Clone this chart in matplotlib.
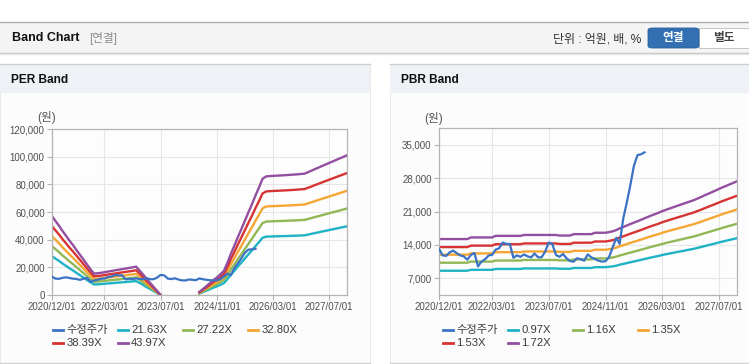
import numpy as np
import pandas as pd
import matplotlib
matplotlib.use("Agg")
import matplotlib.pyplot as plt
from matplotlib.patches import Rectangle, FancyBboxPatch
from matplotlib.lines import Line2D
from matplotlib.ticker import FuncFormatter

plt.rcParams['font.family'] = ['Liberation Sans', 'Noto Sans CJK KR', 'DejaVu Sans']

W, H = 749, 364
nan = np.nan

# monthly dates, 2020/12 .. 2027/12
dates = pd.date_range("2020-12-01", periods=85, freq="MS")
tick_dates = ["2020-12-01", "2022-03-01", "2023-07-01", "2024-11-01", "2026-03-01", "2027-07-01"]
tick_labels = ["2020/12/01", "2022/03/01", "2023/07/01", "2024/11/01", "2026/03/01", "2027/07/01"]

# adjusted price (수정주가), 2020/12 .. 2025/10
price = [13200, 11800, 11700, 12400, 12800, 12300, 11800, 11600, 10900, 11900,
         12300, 9500, 10500, 11000, 11800, 11900, 13000, 13300, 14500, 14200,
         14200, 11300, 11800, 11500, 12000, 11600, 11400, 12200, 11400, 11400,
         12600, 14500, 14200, 11900, 11500, 12100, 11200, 10600, 10500, 11200,
         11000, 10700, 12000, 11400, 11000, 10700, 10500, 10600, 11500, 13500,
         15500, 14200, 19500, 22800, 26500, 30500, 32800, 33000, 33400]

# EPS behind the PER band (won)
per_eps = [1295, 1215, 1135, 1055, 975, 895, 820, 740, 660, 580, 500, 420, 352,
           358, 365, 375, 385, 395, 405, 415, 425, 435, 445, 455, 466,
           400, 333, 266, 200, 133, 66, 0,
           nan, nan, nan, nan, nan, nan, nan, nan, nan, nan,
           50, 95, 145, 195, 245, 290, 340, 400, 535, 675, 810, 950, 1085, 1220,
           1360, 1495, 1635, 1770, 1910, 1950,
           1955, 1958, 1962, 1965, 1968, 1972, 1976, 1980, 1984, 1990, 1995,
           2020, 2045, 2070, 2095, 2120, 2145, 2170, 2195, 2220, 2245, 2270, 2295]
per_multiples = [21.63, 27.22, 32.80, 38.39, 43.97]
per_labels = ["수정주가", "21.63X", "27.22X", "32.80X", "38.39X", "43.97X"]

# BPS behind the PBR band (won)
pbr_bps = [8850, 8850, 8850, 8850, 8850, 8850, 8850, 8850, 8850,
           9050, 9050, 9050, 9050, 9050, 9050, 9050,
           9240, 9240, 9240, 9240, 9240, 9240, 9240, 9240,
           9350, 9350, 9350, 9350, 9350, 9350, 9350, 9350, 9350, 9350,
           9280, 9280, 9280, 9280,
           9450, 9450, 9450, 9450, 9450, 9450,
           9620, 9620, 9620, 9620,
           9700, 9800, 9950, 10150, 10320, 10500, 10680, 10850, 11020, 11200,
           11380, 11560, 11740, 11900, 12070, 12240, 12410, 12560, 12710, 12860,
           13010, 13160, 13310, 13460, 13610, 13800, 13990, 14180, 14370, 14560,
           14750, 14950, 15150, 15330, 15510, 15690, 15870]
pbr_multiples = [0.97, 1.16, 1.35, 1.53, 1.72]
pbr_labels = ["수정주가", "0.97X", "1.16X", "1.35X", "1.53X", "1.72X"]

colors = ["#3a72c4", "#1fb3c6", "#92b755", "#f5a634", "#d63333", "#924f9f"]


def fx(x):
    return x / W


def fy(y):
    return 1 - y / H


def rect(fig, x0, y0, x1, y1, fc, ec="none", lw=0, z=-1):
    fig.patches.append(Rectangle((fx(x0), fy(y1)), (x1 - x0) / W, (y1 - y0) / H,
                                 transform=fig.transFigure, fc=fc, ec=ec, lw=lw, zorder=z))


def hline(fig, x0, x1, y, color, lw=0.75):
    fig.lines.append(Line2D([fx(x0), fx(x1)], [fy(y), fy(y)], transform=fig.transFigure,
                            color=color, lw=lw, zorder=-0.5))


def draw_panel(fig, x0, x1, title):
    rect(fig, x0, 64, x1, 363, "#fcfcfc", ec="#e4e4e4", lw=0.6)
    rect(fig, x0, 64, x1, 93, "#eef1f6", z=-0.8)
    hline(fig, x0, x1, 64.3, "#cfcfcf", 1.0)
    hline(fig, x0, x1, 362.7, "#d2d2d2", 1.0)
    fig.text(fx(x0 + 11), fy(80), title, fontsize=8.6, fontweight="bold",
             color="#111111", va="center", ha="left")


def draw_chart(ax, base, multiples, ylim, yticks):
    base = np.array(base, dtype=float)
    for m, c in zip(multiples, colors[1:]):
        ax.plot(dates, base * m, color=c, lw=1.7, zorder=2)
    ax.plot(dates[:len(price)], price, color=colors[0], lw=1.6, zorder=3)
    ax.set_xlim(dates[0], dates[-1] + pd.Timedelta(days=3))
    ax.set_ylim(*ylim)
    ax.set_yticks(yticks)
    ax.yaxis.set_major_formatter(FuncFormatter(lambda v, p: f"{int(v):,}"))
    ax.set_xticks(pd.to_datetime(tick_dates))
    ax.set_xticklabels(tick_labels)
    ax.grid(True, color="#e6e6e6", lw=0.75, zorder=0)
    ax.set_axisbelow(True)
    ax.set_facecolor("#fdfdfd")
    ax.set_zorder(5)
    for s in ax.spines.values():
        s.set_color("#b4b4b4")
        s.set_linewidth(0.9)
    ax.tick_params(axis="both", colors="#b4b4b4", labelcolor="#505050",
                   labelsize=7.0, length=3.5, width=0.8, pad=1.8)


def draw_legend(fig, x_start, labels):
    for i, lab in enumerate(labels):
        col, row = i % 4, i // 4
        x = x_start + 65 * col
        y = 330 + 13.3 * row
        fig.lines.append(Line2D([fx(x), fx(x + 10.5)], [fy(y), fy(y)],
                                transform=fig.transFigure, color=colors[i], lw=2.0))
        fig.text(fx(x + 13.5), fy(y), lab, fontsize=8.1, color="#3a3a3a",
                 va="center", ha="left")


fig = plt.figure(figsize=(W / 100, H / 100), dpi=100)
fig.patch.set_facecolor("white")

# top header bar
rect(fig, 0, 22, 749, 53, "#f4f4f4")
hline(fig, 0, 749, 22.3, "#b0b0b0", 1.0)
hline(fig, 0, 749, 53.0, "#c4c4c4", 1.0)
hline(fig, 0, 749, 54.2, "#e6e6e6", 1.0)
fig.text(fx(11.5), fy(38), "Band Chart", fontsize=9.0, fontweight="bold",
         color="#111111", va="center", ha="left")
fig.text(fx(89), fy(38.5), "[연결]", fontsize=8.4, color="#8a8a8a", va="center", ha="left")
fig.text(fx(641), fy(39), "단위 : 억원, 배, %", fontsize=8.6, color="#333333",
         va="center", ha="right")
fig.patches.append(FancyBboxPatch((fx(648), fy(48)), 51 / W, 20 / H,
                                  boxstyle="round,pad=0,rounding_size=0.006",
                                  transform=fig.transFigure, fc="#3270b3", ec="#2a609c", lw=0.6))
fig.text(fx(673.5), fy(38.5), "연결", fontsize=8.4, fontweight="bold", color="white",
         va="center", ha="center")
rect(fig, 699, 28, 748.5, 48, "white", ec="#bcbcbc", lw=0.6)
fig.text(fx(724), fy(38.5), "별도", fontsize=8.4, fontweight="bold", color="#444444",
         va="center", ha="center")

draw_panel(fig, 0, 370, "PER Band")
draw_panel(fig, 390, 749, "PBR Band")

ax1 = fig.add_axes([fx(52), fy(295), 295 / W, 166 / H])
draw_chart(ax1, per_eps, per_multiples, (0, 120000), np.arange(0, 120001, 20000))
fig.text(fx(46.5), fy(117.5), "(원)", fontsize=8.4, color="#555555", va="center", ha="center")
draw_legend(fig, 52.7, per_labels)

ax2 = fig.add_axes([fx(439), fy(295), 298 / W, 167 / H])
draw_chart(ax2, pbr_bps, pbr_multiples, (3500, 38500), np.arange(7000, 35001, 7000))
fig.text(fx(434), fy(118.5), "(원)", fontsize=8.4, color="#555555", va="center", ha="center")
draw_legend(fig, 442.7, pbr_labels)

fig.savefig("out.png", dpi=100, facecolor="white")
